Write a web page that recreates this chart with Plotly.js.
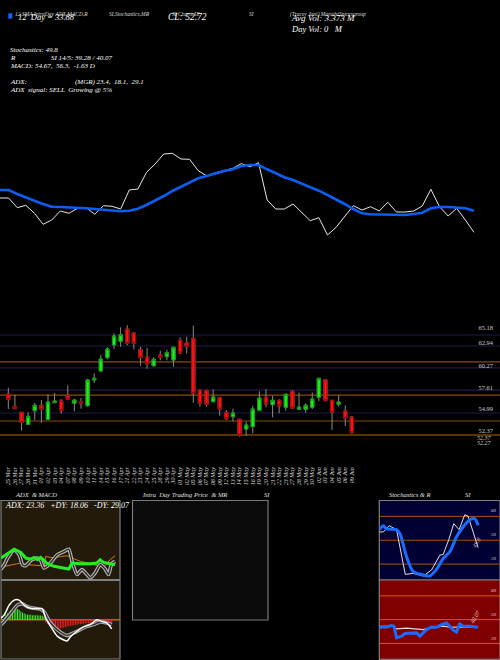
<!DOCTYPE html>
<html><head><meta charset="utf-8">
<script src="https://cdn.plot.ly/plotly-3.0.1.min.js"></script>
<style>html,body{margin:0;padding:0;background:#000;}#chart{width:500px;height:660px;}</style>
</head><body><div id="chart"></div>
<script>
// ---------- DATA ----------
const dates = ['25 Mar','26 Mar','27 Mar','28 Mar','31 Mar','01 Apr','02 Apr','03 Apr','04 Apr','07 Apr','08 Apr','09 Apr','10 Apr','11 Apr','14 Apr','15 Apr','16 Apr','17 Apr','21 Apr','22 Apr','23 Apr','24 Apr','25 Apr','28 Apr','29 Apr','30 Apr','01 May','02 May','05 May','06 May','07 May','08 May','09 May','12 May','13 May','14 May','15 May','16 May','19 May','20 May','21 May','22 May','23 May','27 May','28 May','29 May','30 May','02 Jun','03 Jun','04 Jun','05 Jun','06 Jun','09 Jun'];
const openP  = [56.81,55.34,54.62,53.17,54.81,55.46,53.78,55.77,55.97,56.66,55.70,55.89,55.41,58.50,59.58,61.17,62.70,63.14,64.62,64.14,62.18,61.26,60.21,61.50,61.29,60.90,63.26,62.97,63.50,57.26,57.26,55.89,56.37,54.62,54.09,53.78,52.61,52.89,54.86,56.42,55.53,56.06,55.22,57.14,54.98,54.98,55.22,56.42,58.53,56.06,55.58,54.77,54.05];
const highP  = [57.57,56.73,54.65,54.62,55.73,56.09,56.81,56.93,56.21,57.86,56.18,56.33,58.62,59.30,61.53,62.42,64.10,64.82,65.06,64.22,62.49,62.34,61.22,62.01,62.13,62.49,63.62,63.70,65.02,57.38,57.29,57.38,56.49,54.89,55.05,53.85,53.49,55.41,57.14,57.41,56.57,56.18,56.85,57.29,56.97,55.70,56.97,58.74,58.62,56.09,56.66,55.46,54.14];
const lowP   = [55.01,55.01,52.41,53.09,53.69,53.37,53.69,55.77,54.45,56.18,54.74,55.05,55.29,58.13,59.49,60.98,62.22,62.49,62.66,62.18,60.21,59.85,60.09,60.86,60.86,60.09,61.65,61.65,55.77,55.29,55.29,55.89,54.21,53.69,53.49,51.69,51.81,52.09,54.86,55.22,54.02,54.50,54.81,54.98,54.98,54.57,54.98,55.97,55.94,52.49,55.29,52.97,52.05];
const closeP = [56.18,55.05,53.41,54.14,55.46,54.98,55.85,55.97,54.81,56.18,56.09,55.65,58.50,58.70,61.02,62.22,63.78,63.94,62.90,62.90,61.17,60.45,60.98,61.22,61.77,62.42,61.74,62.49,56.90,55.70,55.58,56.45,55.01,53.85,54.53,51.85,53.09,55.01,56.33,55.61,56.06,55.37,56.78,55.10,55.25,55.46,56.21,58.70,56.01,54.62,55.85,53.90,52.17];
const priceTicks = [64.74,62.94,60.27,57.61,54.99,52.37];
const priceTickText = ['65.18','62.94','60.27','57.61','54.99','52.37'];
const blueLevels = [63.90,62.58,59.94,57.29,54.53];
const orangeLevels = [60.66,56.69,53.57];
const baseLevel = 51.89;

// top overview lines
const topWhite = [52,52,42.3,44.7,36.7,25.7,30,39,36.7,41.7,42.3,35.7,44.3,43.7,41,60,61,77.7,86,96,96.7,91,90.7,79.3,74,77.3,79.3,81.7,86.3,83.3,87.3,50,41,41,46,37.3,29.3,32.3,15,22.7,33.3,44.3,40,43.3,39,47.7,38,38,39,44,60.7,43.3,34,41.7,30,17.7];
const topBlue  = [60,60,56,52.3,49.3,46,43.3,43,42.7,42.3,41.7,41,40.3,39.3,38.7,39.3,41.3,45,49.3,54,59,63.3,67.7,71.7,74,76.7,79,80.7,84,85,85,80.7,76.7,72.7,70,66.7,63.3,59.3,55,50.7,46,41,36.7,35.7,35.7,35.7,35.3,35,36,37.3,41.7,43,43,42.7,41.7,39.3];

// ADX panel
const adxX = [0,1.5,4,6,7.5,9,10,11,12,13,14,16,19,20.5,21.5,24,27,29,30,31,33,34.5];
const adxV = [27.1,31.25,38.3,34.2,27.1,25.8,27.9,25,27.9,24.2,20,16.7,14.6,13.3,20.8,20,20,20.8,25,21.7,20,18.75];
const pdiX = [0,2,4,6,8,10,12,13,13.5,16,18,20,21.5,24,27,29,31,33,34.5];
const pdiV = [15.8,17.5,20,20.8,18.75,18.3,17.5,15.8,29.2,27.1,29.2,30,27.1,22.9,20,17.5,15.8,25,30];
const mdiX = [0,1,2,4,5.5,6.5,7.5,9,11,12,13,14.5,17,19,20.5,21.5,23,24.5,26,27,28.5,30,31.5,32.5,33.5,34.5];
const mdiV = [13.3,18.75,27.1,37.5,31.25,18.75,17.5,24.2,27.1,24.2,14.6,18.75,31.25,35.4,38.3,22.9,6.25,12.5,6.25,2.1,8.3,18.75,13.3,6.25,20,22.9];

// MACD panel
const macdX = [0,1,2.5,4,5.5,7,9,11,12.5,13.5,15,17,19,20,21,23,25,27,29,30.5,32,33.5];
const macdV = [0.17,0.5,1.5,2.0,2.0,1.5,1.17,1.13,1.1,0.17,-0.67,-1.67,-2.07,-2.17,-1.73,-1.17,-0.73,-0.5,0,-0.17,-0.33,-0.93];
const sigX = [0,1,3,5,6.5,8,10,12,13,15,18,20,22,24,26,28,30,32,33.5];
const sigV = [-0.5,-0.17,0.67,1.5,1.6,1.33,1.17,1.07,0.83,-0.33,-1.27,-1.6,-1.33,-1.0,-0.67,-0.5,-0.23,-0.33,-0.5];
const histV = [0.07,0.23,0.5,0.67,0.83,1.0,1.07,1.13,1.17,1.1,1.0,0.83,0.73,0.67,0.57,0.5,0.5,0.5,0.47,0.47,0.47,0.47,0.43,0.43,0.4,0.27,
  -0.27,-0.4,-0.57,-0.73,-0.83,-0.9,-0.93,-0.93,-0.93,-0.9,-0.83,-0.8,-0.73,-0.7,-0.67,-0.63,-0.6,-0.57,-0.53,-0.5,-0.47,-0.47,-0.43,-0.4,-0.37,-0.33,-0.33,-0.3,-0.27,-0.23,-0.2,-0.2,-0.27,-0.33,-0.4,-0.43,-0.47,-0.5,-0.5,-0.47,-0.4];

// Stochastics panel
const stochKX = [0,1.2,3,5.2,7.8,10.2,13.2,15.7,18.2,19.2,20.9,22.4,24,25.7,26.7,29.7];
const stochK  = [60.4,60.4,68.3,63.3,7.1,8.3,5,12.5,31.3,32,50.8,70.8,63.3,82,80.4,40.8];
const stochDX = [0,1.2,2.2,5.2,6.2,8.2,10.2,13.2,15.2,17.2,19.2,21.2,23.2,25.2,27.2,28.7,29.7];
const stochD  = [63.3,68.3,64.2,63.3,58.3,29.2,10.4,6.25,5,13.3,27.1,35.4,54.2,66.7,75.8,77.1,68.75];

// RSI panel
const rsiWX = [0,2.2,3.7,5.2,8.2,11.2,13.2,15.2,17.2,19.2,21.2,23.2,25.2,27.2,29.7];
const rsiW  = [41.7,41.7,42.9,38.3,39.2,38.3,37.5,39.6,40.8,41.7,40.4,40.8,40.8,40.8,40.4];
const rsiBX = [0,2.2,3.7,4.4,5.2,6.7,7.7,10.2,11.2,12.2,13.2,14.2,15.7,17.2,18.7,20.2,21.2,22.2,23.2,24.2,25.2,27.2,29.7];
const rsiB  = [40.4,40.8,42.5,41.7,27.1,29.2,32.5,32.5,33.3,29.2,33.3,37.5,40.8,40.4,43.75,45.8,41.7,36.7,34.2,44.6,41.7,41.7,40.4];
const oscLevels = [80,50,20];

// ---------- BUILD ----------
const W = 500, H = 660;
const fx = x => x / W, fy = y => 1 - y / H;
const SERIF = 'Liberation Serif, DejaVu Serif, serif';
const idx = dates.map((d, i) => i);
const idxTop = topWhite.map((d, i) => i);
const histX = histV.map((d, i) => 0.5 * (i + 1));
const bodyHigh = openP.map((o, i) => Math.max(o, closeP[i]));
const bodyLow = openP.map((o, i) => Math.min(o, closeP[i]));

const traces = [
  {type:'scatter', mode:'lines', x: idxTop, y: topWhite, xaxis:'x', yaxis:'y', line:{color:'#e8e8e8', width:1}, hoverinfo:'skip'},
  {type:'scatter', mode:'lines', x: idxTop, y: topBlue, xaxis:'x', yaxis:'y', line:{color:'#0b5ef2', width:2.6}, hoverinfo:'skip'},

  // wicks
  {type:'candlestick', x: idx, open: openP, high: highP, low: lowP, close: closeP, xaxis:'x2', yaxis:'y2',
   increasing:{line:{color:'#8a8a8a', width:1}, fillcolor:'#8a8a8a'},
   decreasing:{line:{color:'#8a8a8a', width:1}, fillcolor:'#8a8a8a'}, whiskerwidth:0, hoverinfo:'skip'},
  // bodies
  {type:'candlestick', x: idx, open: openP, high: bodyHigh, low: bodyLow, close: closeP, xaxis:'x2', yaxis:'y2',
   increasing:{line:{color:'#0c9a0c', width:1}, fillcolor:'#1cf01c'},
   decreasing:{line:{color:'#a00000', width:1}, fillcolor:'#ff1414'}, whiskerwidth:0, hoverinfo:'skip'},

  {type:'scatter', mode:'lines', x: pdiX, y: pdiV, xaxis:'x3', yaxis:'y3', line:{color:'#d27a10', width:1}, hoverinfo:'skip'},
  {type:'scatter', mode:'lines', x: mdiX, y: mdiV, xaxis:'x3', yaxis:'y3', line:{color:'#b8b8b8', width:3.6, shape:'spline', smoothing:0.6}, hoverinfo:'skip'},
  {type:'scatter', mode:'lines', x: mdiX, y: mdiV, xaxis:'x3', yaxis:'y3', line:{color:'#2a2a2a', width:1.4, shape:'spline', smoothing:0.6}, hoverinfo:'skip'},
  {type:'scatter', mode:'lines', x: adxX, y: adxV, xaxis:'x3', yaxis:'y3', line:{color:'#22ee22', width:3}, hoverinfo:'skip'},

  {type:'bar', x: histX, y: histV, width: 0.28, xaxis:'x4', yaxis:'y4',
   marker:{color: histV.map(v => v >= 0 ? '#33ff33' : '#ff2020')}, hoverinfo:'skip'},
  {type:'scatter', mode:'lines', x: sigX, y: sigV, xaxis:'x4', yaxis:'y4', line:{color:'#a8a8a8', width:3.6, shape:'spline', smoothing:0.6}, hoverinfo:'skip'},
  {type:'scatter', mode:'lines', x: sigX, y: sigV, xaxis:'x4', yaxis:'y4', line:{color:'#303030', width:1.3, shape:'spline', smoothing:0.6}, hoverinfo:'skip'},
  {type:'scatter', mode:'lines', x: macdX, y: macdV, xaxis:'x4', yaxis:'y4', line:{color:'#ffffff', width:1.5, shape:'spline', smoothing:0.6}, hoverinfo:'skip'},

  {type:'scatter', mode:'lines', x: stochKX, y: stochK, xaxis:'x5', yaxis:'y5', line:{color:'#e0e0e0', width:1}, hoverinfo:'skip'},
  {type:'scatter', mode:'lines', x: stochDX, y: stochD, xaxis:'x5', yaxis:'y5', line:{color:'#1a6cff', width:3, shape:'spline', smoothing:0.7}, hoverinfo:'skip'},

  {type:'scatter', mode:'lines', x: rsiWX, y: rsiW, xaxis:'x6', yaxis:'y6', line:{color:'#f0d0d0', width:1.2}, hoverinfo:'skip'},
  {type:'scatter', mode:'lines', x: rsiBX, y: rsiB, xaxis:'x6', yaxis:'y6', line:{color:'#1a6cff', width:3}, hoverinfo:'skip'}
];

const hidden = {visible:false, fixedrange:true};
const shapes = [];
shapes.push({type:'rect', xref:'paper', yref:'paper', x0:fx(8.3), x1:fx(12.3), y0:fy(18.7), y1:fy(13.3), fillcolor:'#1560ff', line:{width:0}});
blueLevels.forEach(v => shapes.push({type:'line', xref:'paper', yref:'y2', x0:0, x1:1, y0:v, y1:v, line:{color:'#1c1c4e', width:1.2}, layer:'below'}));
orangeLevels.forEach(v => shapes.push({type:'line', xref:'paper', yref:'y2', x0:0, x1:1, y0:v, y1:v, line:{color:'#8a4c08', width:1.2}, layer:'below'}));
shapes.push({type:'line', xref:'paper', yref:'y2', x0:0, x1:1, y0:baseLevel, y1:baseLevel, line:{color:'#5a3300', width:2.2}, layer:'below'});
const panel = (xa, ya, fill) => shapes.push({type:'rect', xref:xa+' domain', yref:ya+' domain', x0:0, x1:1, y0:0, y1:1, fillcolor:fill, line:{color:'#808080', width:1.2}, layer:'below'});
panel('x3','y3','#221a0b');
panel('x4','y4','#221a0b');
panel('x5','y5','#000033');
panel('x6','y6','#800000');
shapes.push({type:'rect', xref:'paper', yref:'paper', x0:fx(132.5), x1:fx(268), y0:fy(620), y1:fy(500.5), fillcolor:'#0b0b0b', line:{color:'#7a7a7a', width:1.2}, layer:'below'});
shapes.push({type:'line', xref:'x4 domain', yref:'y4', x0:0, x1:1, y0:0, y1:0, line:{color:'#b86400', width:1.3}, layer:'below'});
oscLevels.forEach(v => {
  shapes.push({type:'line', xref:'x5 domain', yref:'y5', x0:0, x1:1, y0:v, y1:v, line:{color:'#a85400', width:1}, layer:'below'});
  shapes.push({type:'line', xref:'x6 domain', yref:'y6', x0:0, x1:1, y0:v, y1:v, line:{color:'#d06000', width:1}, layer:'below'});
});

const ann = [];
const txt = (x, y, text, size, color, extra) => ann.push(Object.assign({xref:'paper', yref:'paper', x:fx(x), y:fy(y), text:text, showarrow:false, xanchor:'left', yanchor:'middle',
  font:{family:SERIF, size:size, color:color || '#ffffff', style:'italic'}}, extra || {}));
txt(12.5, 14, '12 SMA IntraDay ADX,MACD,R', 5.5, '#dddddd');
txt(16, 17.5, '12  Day = 33.88', 8.5);
txt(107, 14, 'SI,Stochastics,MR', 5.5, '#dddddd');
txt(170, 14, 'SI Charts IE', 5.5, '#dddddd');
txt(166, 17.5, 'CL: 52.72', 9.5);
txt(247, 14, 'SI', 5.5, '#dddddd');
txt(288, 14, '(Tracey Jani) MarathiSpicesgroup', 5.5, '#dddddd');
txt(289, 18, 'Avg Vol: 3.373 M', 9);
txt(289, 29.5, 'Day Vol: 0   M', 8.5);
txt(8, 50, 'Stochastics: 49.8', 7);
txt(8, 58, 'R', 7);
txt(49, 58, 'SI 14/5: 39.28 / 40.07', 7);
txt(8, 66, 'MACD: 54.67,  56.3,  -1.63 D', 7);
txt(8, 82, 'ADX:', 7);
txt(73, 82, '(MGR) 23.4,  18.1,  29.1', 7);
txt(8, 90, 'ADX  signal: SELL  Growing @ 5%', 7);
txt(13, 494, 'ADX  & MACD', 6.5, '#e0e0e0');
txt(140, 494, 'Intra  Day Trading Price  & MR', 6.5, '#e0e0e0');
txt(262, 494, 'SI', 6.5, '#e0e0e0');
txt(387, 494, 'Stochastics & R', 6.5, '#e0e0e0');
txt(463, 494, 'SI', 6.5, '#e0e0e0');
txt(3, 505.5, 'ADX: 23.36   +DY: 18.06   -DY: 29.07', 8);
txt(494, 437.5, '52.37', 6, '#cccccc', {xanchor:'right'});
txt(494, 442.5, '52.27', 6, '#cccccc', {xanchor:'right'});
const oscLabelY = [[510,'80'],[534,'50'],[558,'20']];
oscLabelY.forEach(p => {
  txt(494, p[0], p[1], 5, '#cccccc', {xanchor:'center'});
  txt(494, p[0] + 80, p[1], 5, '#f0c0c0', {xanchor:'center'});
});
ann.push({xref:'paper', yref:'paper', x:fx(485), y:fy(551), text:'49.8', showarrow:false, textangle:-60, font:{family:SERIF, size:6, color:'#cccccc', style:'italic'}});
ann.push({xref:'paper', yref:'paper', x:fx(485), y:fy(627), text:'40.07', showarrow:false, textangle:-60, font:{family:SERIF, size:6, color:'#f0c8c8', style:'italic'}});

const layout = {
  width: W, height: H, margin:{l:0, r:0, t:0, b:0, pad:0},
  paper_bgcolor:'#000000', plot_bgcolor:'#000000', showlegend:false, barmode:'overlay', boxmode:'overlay',
  font:{family:SERIF, color:'#ffffff'},
  xaxis: Object.assign({domain:[0,1], range:[0, 58.02], anchor:'y'}, hidden),
  yaxis: Object.assign({domain:[fy(250), fy(130)], range:[0,120], anchor:'x'}, hidden),
  xaxis2: {domain:[0,1], range:[-1.26, 74.42], anchor:'y2', fixedrange:true, rangeslider:{visible:false},
    tickmode:'array', tickvals: idx, ticktext: dates, tickangle:-90, ticks:'', showgrid:false, zeroline:false, showline:false,
    ticklabelstandoff:15, tickfont:{family:SERIF, size:6, color:'#dddddd', style:'italic'}},
  yaxis2: {domain:[fy(450), fy(320)], range:[50.09, 65.70], anchor:'x2', side:'right', fixedrange:true,
    tickmode:'array', tickvals: priceTicks, ticktext: priceTickText, ticklabelposition:'inside', ticklabelstandoff:4,
    ticks:'', showgrid:false, zeroline:false, showline:false, tickfont:{family:SERIF, size:6.5, color:'#cccccc'}},
  xaxis3: Object.assign({domain:[fx(1), fx(120)], range:[0,36], anchor:'y3'}, hidden),
  yaxis3: Object.assign({domain:[fy(579.5), fy(500.5)], range:[0,100], anchor:'x3'}, hidden),
  xaxis4: Object.assign({domain:[fx(1), fx(120)], range:[0,36], anchor:'y4'}, hidden),
  yaxis4: Object.assign({domain:[fy(659), fy(580.5)], range:[-4,4], anchor:'x4'}, hidden),
  xaxis5: Object.assign({domain:[fx(379.3), 1], range:[0,36.3], anchor:'y5'}, hidden),
  yaxis5: Object.assign({domain:[fy(580), fy(500.5)], range:[0,100], anchor:'x5'}, hidden),
  xaxis6: Object.assign({domain:[fx(379.3), 1], range:[0,36.3], anchor:'y6'}, hidden),
  yaxis6: Object.assign({domain:[fy(659.3), fy(580)], range:[0,100], anchor:'x6'}, hidden),
  shapes: shapes, annotations: ann
};

Plotly.newPlot('chart', traces, layout, {staticPlot:true, displayModeBar:false});
</script></body></html>
